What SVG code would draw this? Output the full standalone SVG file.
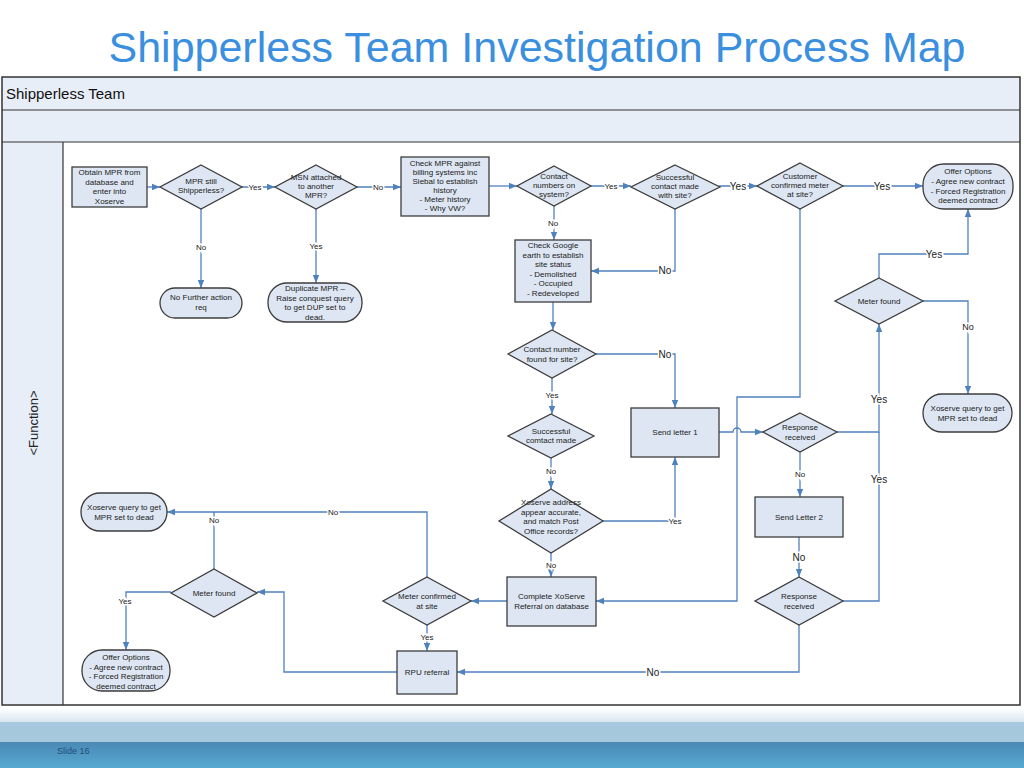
<svg xmlns="http://www.w3.org/2000/svg" width="1024" height="768" viewBox="0 0 1024 768">
<defs>
<style>
.n{fill:#dde6f2;stroke:#3c3c3c;stroke-width:1.3}
.t{font-family:"Liberation Sans",Arial,sans-serif;font-size:8px;fill:#222;text-anchor:middle}
.c{fill:none;stroke:#4f81bd;stroke-width:1.3}
.a{marker-end:url(#ah)}
.l{font-family:"Liberation Sans",Arial,sans-serif;font-size:8px;fill:#222;text-anchor:middle;stroke:#fff;stroke-width:3;paint-order:stroke}
.lb{font-size:10px}
</style>
<marker id="ah" markerUnits="userSpaceOnUse" markerWidth="8" markerHeight="8" viewBox="0 0 8 8" refX="8" refY="4" orient="auto">
<path d="M0,0.8 L8,4 L0,7.2 Z" fill="#4f81bd"/>
</marker>
<linearGradient id="band" x1="0" y1="0" x2="0" y2="1">
<stop offset="0" stop-color="#4a88b6"/>
<stop offset="1" stop-color="#56aad2"/>
</linearGradient>
<linearGradient id="band0" x1="0" y1="0" x2="0" y2="1">
<stop offset="0" stop-color="#ffffff"/>
<stop offset="1" stop-color="#d8e6ef"/>
</linearGradient>
</defs>
<rect width="1024" height="768" fill="#fff"/>
<text x="537" y="62" font-family="Liberation Sans,Arial,sans-serif" font-size="43" fill="#3a8fdf" text-anchor="middle" textLength="857" lengthAdjust="spacingAndGlyphs">Shipperless Team Investigation Process Map</text>

<g id="frame">
<rect x="2" y="77" width="1018" height="65" fill="#e8eef7"/>
<rect x="2" y="142" width="61" height="563" fill="#e8eef7"/>
<rect x="2" y="77" width="1018" height="628" fill="none" stroke="#333" stroke-width="1.5"/>
<line x1="2" y1="110" x2="1020" y2="110" stroke="#333" stroke-width="1.2"/>
<line x1="2" y1="142" x2="1020" y2="142" stroke="#333" stroke-width="1.2"/>
<line x1="63" y1="142" x2="63" y2="705" stroke="#333" stroke-width="1.2"/>
<text x="6" y="99" font-family="Liberation Sans,Arial,sans-serif" font-size="15" fill="#111">Shipperless Team</text>
<text transform="translate(38,423) rotate(-90)" font-family="Liberation Sans,Arial,sans-serif" font-size="13" fill="#222" text-anchor="middle">&lt;Function&gt;</text>
</g>

<g id="footer">
<rect x="0" y="708" width="1024" height="14" fill="url(#band0)"/>
<rect x="0" y="722" width="1024" height="20" fill="#a6c8dc"/>
<rect x="0" y="742" width="1024" height="26" fill="url(#band)"/>
<text x="57" y="754" font-family="Liberation Sans,Arial,sans-serif" font-size="9" fill="#1f4e79">Slide 16</text>
</g>

<g id="connectors">
<path class="c a" d="M147,187 H160"/>
<path class="c a" d="M242,187 H275"/>
<path class="c a" d="M201,208 V288"/>
<path class="c a" d="M316,208 V283"/>
<path class="c a" d="M356,187 H401"/>
<path class="c a" d="M489,186 H517"/>
<path class="c a" d="M591,186 H631"/>
<path class="c a" d="M554,206 V240"/>
<path class="c a" d="M675,209 V271 H591"/>
<path class="c a" d="M719,186 H757"/>
<path class="c a" d="M843,186 H923"/>
<path class="c a" d="M879,278 V254 H968 V209"/>
<path class="c a" d="M923,301 H968 V394"/>
<path class="c a" d="M553,302 V330"/>
<path class="c a" d="M596,354 H675 V408"/>
<path class="c a" d="M552,378 V414"/>
<path class="c a" d="M551,458 V489"/>
<path class="c a" d="M603,521 H675 V457"/>
<path class="c a" d="M551,553 V577"/>
<path class="c a" d="M800,209 V397 H737 V601 H596"/>
<path class="c a" d="M719,432 H733 A4,4 0 0 1 741,432 H763"/>
<path class="c a" d="M837,432 H879 V324"/>
<path class="c a" d="M800,452 V497"/>
<path class="c a" d="M799,537 V577"/>
<path class="c" d="M843,601 H879 V432"/>
<path class="c a" d="M799,625 V672 H457"/>
<path class="c a" d="M507,601 H471"/>
<path class="c a" d="M427,625 V651"/>
<path class="c a" d="M427,577 V512 H167"/>
<path class="c a" d="M397,672 H284 V592 H257"/>
<path class="c" d="M214,569 V512"/>
<path class="c a" d="M171,592 H126 V650"/>
<text class="l" x="255" y="190">Yes</text>
<text class="l" x="201" y="250">No</text>
<text class="l" x="316" y="249">Yes</text>
<text class="l" x="378" y="190">No</text>
<text class="l" x="611" y="189">Yes</text>
<text class="l" x="553" y="226">No</text>
<text class="l lb" x="665" y="274">No</text>
<text class="l lb" x="738" y="190">Yes</text>
<text class="l lb" x="882" y="190">Yes</text>
<text class="l lb" x="934" y="258">Yes</text>
<text class="l" x="968" y="330" style="font-size:9px">No</text>
<text class="l lb" x="665" y="358">No</text>
<text class="l" x="552" y="398">Yes</text>
<text class="l" x="551" y="474">No</text>
<text class="l" x="675" y="524">Yes</text>
<text class="l" x="551" y="568">No</text>
<text class="l lb" x="879" y="403">Yes</text>
<text class="l" x="800" y="477">No</text>
<text class="l lb" x="799" y="561">No</text>
<text class="l lb" x="879" y="483">Yes</text>
<text class="l lb" x="653" y="676">No</text>
<text class="l" x="427" y="640">Yes</text>
<text class="l" x="333" y="515">No</text>
<text class="l" x="214" y="523">No</text>
<text class="l" x="125" y="604">Yes</text>
</g>

<g id="n1"><rect class="n" x="72" y="167" width="75" height="40"/>
<text class="t" x="109.5" y="175">Obtain MPR from</text><text class="t" x="109.5" y="184.5">database and</text><text class="t" x="109.5" y="194">enter into</text><text class="t" x="109.5" y="203.5">Xoserve</text></g>

<g id="n2"><polygon class="n" points="201,165 242,187 201,209 160,187"/>
<text class="t" x="201" y="184">MPR still</text><text class="t" x="201" y="193">Shipperless?</text></g>

<g id="n3"><polygon class="n" points="316,165 357,187 316,209 275,187"/>
<text class="t" x="316" y="180">MSN attached</text><text class="t" x="316" y="189">to another</text><text class="t" x="316" y="198">MPR?</text></g>

<g id="n4"><rect class="n" x="160" y="288" width="82" height="30" rx="15"/>
<text class="t" x="201" y="300">No Further action</text><text class="t" x="201" y="310">req</text></g>

<g id="n5"><rect class="n" x="268" y="283" width="94" height="39" rx="19"/>
<text class="t" x="315" y="291">Duplicate MPR –</text><text class="t" x="315" y="300.5">Raise conquest query</text><text class="t" x="315" y="310">to get DUP set to</text><text class="t" x="315" y="319.5">dead.</text></g>

<g id="n6"><rect class="n" x="401" y="157" width="88" height="59"/>
<text class="t" x="445" y="166">Check MPR against</text><text class="t" x="445" y="175">billing systems inc</text><text class="t" x="445" y="184">Siebal to establish</text><text class="t" x="445" y="193">history</text><text class="t" x="445" y="202">- Meter history</text><text class="t" x="445" y="211">- Why VW?</text></g>

<g id="n7"><polygon class="n" points="554,166 591,186 554,206 517,186"/>
<text class="t" x="554" y="179">Contact</text><text class="t" x="554" y="188">numbers on</text><text class="t" x="554" y="197">system?</text></g>

<g id="n8"><polygon class="n" points="675,165 720,187 675,209 631,187"/>
<text class="t" x="675" y="180">Successful</text><text class="t" x="675" y="189">contact made</text><text class="t" x="675" y="198">with site?</text></g>

<g id="n9"><rect class="n" x="515" y="240" width="76" height="62"/>
<text class="t" x="553" y="248">Check Google</text><text class="t" x="553" y="257.5">earth to establish</text><text class="t" x="553" y="267">site status</text><text class="t" x="553" y="276.5">- Demolished</text><text class="t" x="553" y="286">- Occupied</text><text class="t" x="553" y="295.5">- Redeveloped</text></g>

<g id="n10"><polygon class="n" points="800,163 843,186 800,209 757,186"/>
<text class="t" x="800" y="179">Customer</text><text class="t" x="800" y="188">confirmed meter</text><text class="t" x="800" y="197">at site?</text></g>

<g id="n11"><rect class="n" x="923" y="164" width="90" height="45" rx="21"/>
<text class="t" x="968" y="174">Offer Options</text><text class="t" x="968" y="184">- Agree new contract</text><text class="t" x="968" y="193.5">- Forced Registration</text><text class="t" x="968" y="203">deemed contract</text></g>

<g id="n12"><polygon class="n" points="879,278 923,301 879,324 835,301"/>
<text class="t" x="879" y="304">Meter found</text></g>

<g id="n13"><rect class="n" x="923" y="394" width="89" height="38" rx="19"/>
<text class="t" x="967.5" y="411">Xoserve query to get</text><text class="t" x="967.5" y="421">MPR set to dead</text></g>

<g id="n14"><polygon class="n" points="552,330 596,354 552,378 508,354"/>
<text class="t" x="552" y="352">Contact number</text><text class="t" x="552" y="361.5">found for site?</text></g>

<g id="n15"><rect class="n" x="631" y="408" width="88" height="49"/>
<text class="t" x="675" y="435">Send letter 1</text></g>

<g id="n16"><polygon class="n" points="551,414 594,436 551,458 508,436"/>
<text class="t" x="551" y="433.5">Successful</text><text class="t" x="551" y="443">comtact made</text></g>

<g id="n17"><polygon class="n" points="551,489 603,521 551,553 499,521"/>
<text class="t" x="551" y="505">Xoserve address</text><text class="t" x="551" y="514.5">appear accurate,</text><text class="t" x="551" y="524">and match Post</text><text class="t" x="551" y="533.5">Office records?</text></g>

<g id="n18"><rect class="n" x="507" y="577" width="89" height="49"/>
<text class="t" x="551.5" y="599">Complete XoServe</text><text class="t" x="551.5" y="608.5">Referral on database</text></g>

<g id="n19"><polygon class="n" points="800,413 837,432 800,452 763,432"/>
<text class="t" x="800" y="430">Response</text><text class="t" x="800" y="439.5">received</text></g>

<g id="n20"><rect class="n" x="755" y="497" width="88" height="40"/>
<text class="t" x="799" y="520">Send Letter 2</text></g>

<g id="n21"><polygon class="n" points="799,577 843,601 799,625 755,601"/>
<text class="t" x="799" y="599">Response</text><text class="t" x="799" y="608.5">received</text></g>

<g id="n22"><rect class="n" x="397" y="651" width="60" height="43"/>
<text class="t" x="427" y="675">RPU referral</text></g>

<g id="n23"><polygon class="n" points="427,577 471,601 427,625 383,601"/>
<text class="t" x="427" y="599">Meter confirmed</text><text class="t" x="427" y="608.5">at site</text></g>

<g id="n24"><rect class="n" x="81" y="493" width="86" height="38" rx="19"/>
<text class="t" x="124" y="510">Xoserve query to get</text><text class="t" x="124" y="520">MPR set to dead</text></g>

<g id="n25"><polygon class="n" points="214,569 257,593 214,617 171,593"/>
<text class="t" x="214" y="596">Meter found</text></g>

<g id="n26"><rect class="n" x="82" y="650" width="88" height="41" rx="20"/>
<text class="t" x="126" y="660">Offer Options</text><text class="t" x="126" y="669.5">- Agree new contract</text><text class="t" x="126" y="679">- Forced Registration</text><text class="t" x="126" y="688.5">deemed contract</text></g>
</svg>
